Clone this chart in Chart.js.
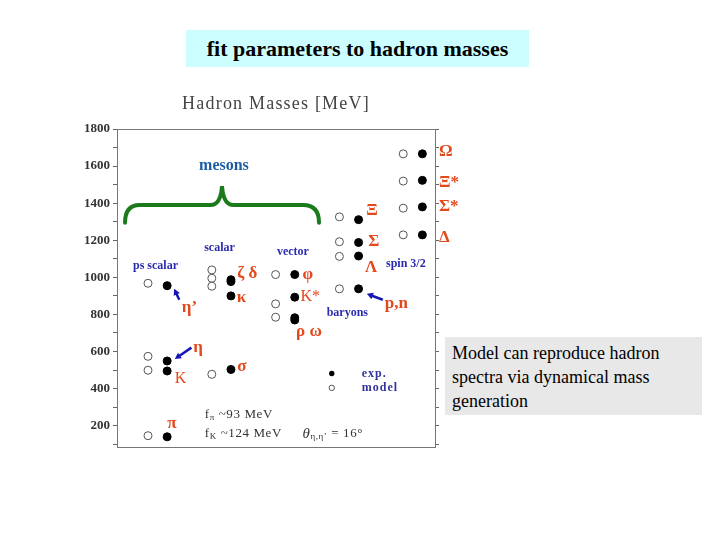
<!DOCTYPE html>
<html>
<head>
<meta charset="utf-8">
<script src="https://cdn.jsdelivr.net/npm/chart.js@4"></script>
<style>
  body { margin: 0; background: #fff; }
  #slide { position: relative; width: 720px; height: 540px; overflow: hidden; }
  #c { position: absolute; left: 0; top: 0; }
  .title { position: absolute; left: 186px; top: 30px; width: 343px; height: 37px; background: #ccfdff;
           font: bold 22px "Liberation Serif", serif; color: #000; text-align: center; line-height: 37px; }
  .head { position: absolute; left: 117px; top: 93px; width: 318px; text-align: center;
          font: 18px "Liberation Serif", serif; color: #444; letter-spacing: 1.2px; }
  .note { position: absolute; left: 445px; top: 337px; width: 250px; height: 72px; padding: 4px 0 2px 7px; background: #e8e8e8;
          font: 18px "Liberation Serif", serif; color: #000; line-height: 24px; }
</style>
</head>
<body>
<div id="slide">
  <canvas id="c" width="720" height="540"></canvas>
  <div class="title">fit parameters to hadron masses</div>
  <div class="head">Hadron Masses [MeV]</div>
  <div class="note">Model can reproduce hadron spectra via dynamical mass generation</div>
</div>
<script>
(function() {
// columns of the plot
var columns = ["ps scalar", "scalar", "vector", "baryons", "spin 3/2"];

// masses in MeV
var psScalarModel = [968, 574, 499, 146];
var psScalarExp   = [955, 549, 495, 140];
var scalarModel   = [1040, 995, 952, 477];
var scalarExp     = [987, 977, 900, 503];
var vectorModel   = [1015, 857, 785];
var vectorExp     = [1015, 893, 782, 770];
var baryonModel   = [938, 1113, 1192, 1326];
var baryonExp     = [938, 1115, 1188, 1311];
var spin32Model   = [1229, 1373, 1519, 1666];
var spin32Exp     = [1229, 1380, 1523, 1666];

var yTicks = [100, 200, 300, 400, 500, 600, 700, 800, 900, 1000, 1100, 1200, 1300, 1400, 1500, 1600, 1700, 1800];

var modelByCol = [psScalarModel, scalarModel, vectorModel, baryonModel, spin32Model];
var expByCol = [psScalarExp, scalarExp, vectorExp, baryonExp, spin32Exp];

function points(byCol, shift) {
    var out = [];
    byCol.forEach(function(list, i) {
        list.forEach(function(m) { out.push({x: i + shift, y: m}); });
    });
    return out;
}

var red = "#e24a1c", blue = "#2b2bb0";

// particle names: [text, x (column units), y (MeV)]
var names = [
    ["\u03A9", 4.56, 1676], ["\u039E*", 4.56, 1510], ["\u03A3*", 4.56, 1380], ["\u0394", 4.56, 1215],
    ["\u039E", 3.42, 1362], ["\u03A3", 3.45, 1192], ["\u039B", 3.40, 1054], ["p,n", 3.71, 857],
    ["\u03C6", 2.42, 1014], ["\u03C1 \u03C9", 2.32, 710],
    ["\u03B6 \u03B4", 1.40, 1018], ["\u03BA", 1.39, 889], ["\u03C3", 1.40, 521],
    ["\u03B7\u2019", 0.53, 839], ["\u03B7", 0.71, 621], ["\u03C0", 0.30, 213]
];
var plainNames = [["K*", 2.39, 896], ["K", 0.42, 451]];
var groups = [
    ["ps scalar", -0.235, 1063], ["scalar", 0.88, 1158], ["vector", 2.02, 1138],
    ["baryons", 2.80, 807], ["spin 3/2", 3.73, 1072]
];
var arrows = [[0.49, 879, 0.41, 938], [0.68, 621, 0.42, 560], [3.68, 879, 3.43, 911]];

var decor = {
    id: "decor",
    afterDraw: function(chart) {
        var c = chart.ctx, a = chart.chartArea;
        var X = function(v) { return chart.scales.x.getPixelForValue(v); };
        var Y = function(v) { return chart.scales.y.getPixelForValue(v); };
        c.save();
        c.strokeStyle = "#777"; c.lineWidth = 1;
        c.strokeRect(a.left + 0.5, a.top + 0.5, a.right - a.left, a.bottom - a.top);

        // mesons brace
        c.strokeStyle = "#1b7a1b"; c.lineWidth = 4; c.lineCap = "round";
        c.beginPath();
        c.moveTo(X(-0.36), Y(1295));
        c.quadraticCurveTo(X(-0.36), Y(1390), X(-0.13), Y(1390));
        c.lineTo(X(0.98), Y(1390));
        c.quadraticCurveTo(X(1.14), Y(1390), X(1.16), Y(1492));
        c.quadraticCurveTo(X(1.18), Y(1390), X(1.34), Y(1390));
        c.lineTo(X(2.43), Y(1390));
        c.quadraticCurveTo(X(2.68), Y(1390), X(2.68), Y(1295));
        c.stroke();

        c.textBaseline = "middle"; c.textAlign = "left";
        c.fillStyle = "#1d5ea3"; c.font = "bold 16px 'Liberation Serif', serif";
        c.fillText("mesons", X(0.80), Y(1600));

        c.fillStyle = red; c.font = "bold 17px 'Liberation Serif', serif";
        names.forEach(function(n) { c.fillText(n[0], X(n[1]), Y(n[2])); });
        c.font = "16px 'Liberation Serif', serif";
        plainNames.forEach(function(n) { c.fillText(n[0], X(n[1]), Y(n[2])); });

        c.fillStyle = blue; c.font = "bold 12px 'Liberation Serif', serif";
        groups.forEach(function(n) { c.fillText(n[0], X(n[1]), Y(n[2])); });

        // arrows
        c.strokeStyle = "#1616b8"; c.fillStyle = "#1616b8"; c.lineWidth = 2.5; c.lineCap = "butt";
        arrows.forEach(function(ar) {
            var x1 = X(ar[0]), y1 = Y(ar[1]), x2 = X(ar[2]), y2 = Y(ar[3]);
            var ang = Math.atan2(y2 - y1, x2 - x1);
            c.beginPath(); c.moveTo(x1, y1); c.lineTo(x2 - 4 * Math.cos(ang), y2 - 4 * Math.sin(ang)); c.stroke();
            c.beginPath();
            c.moveTo(x2, y2);
            c.lineTo(x2 - 7 * Math.cos(ang - 0.5), y2 - 7 * Math.sin(ang - 0.5));
            c.lineTo(x2 - 7 * Math.cos(ang + 0.5), y2 - 7 * Math.sin(ang + 0.5));
            c.closePath(); c.fill();
        });

        // legend
        c.fillStyle = "#000";
        c.beginPath(); c.arc(X(2.88), Y(481), 2.7, 0, 2 * Math.PI); c.fill();
        c.fillStyle = "#fff"; c.strokeStyle = "#555"; c.lineWidth = 1;
        c.beginPath(); c.arc(X(2.88), Y(404), 2.7, 0, 2 * Math.PI); c.fill(); c.stroke();
        c.fillStyle = "#33339a"; c.font = "bold 12px 'Liberation Serif', serif";
        c.letterSpacing = "1px";
        c.fillText("exp.", X(3.35), Y(481));
        c.fillText("model", X(3.35), Y(404));

        // fit notes
        c.fillStyle = "#333";
        c.letterSpacing = "0.6px";
        var big = "13px 'Liberation Serif', serif", small = "9px 'Liberation Serif', serif";
        function rich(parts, x, y) {
            parts.forEach(function(p) {
                c.font = p[1] ? small : (p[2] ? "italic 15px 'Liberation Serif', serif" : big);
                c.fillText(p[0], x, y + (p[1] ? 3 : 0));
                x += c.measureText(p[0]).width;
            });
        }
        rich([["f"], ["\u03C0", 1], [" ~93 MeV"]], X(0.89), Y(258));
        rich([["f"], ["K", 1], [" ~124 MeV"]], X(0.89), Y(155));
        rich([["\u03B8", 0, 1], ["\u03B7,\u03B7\u2019", 1], [" = 16\u00B0"]], X(2.42), Y(155));
        c.restore();
    }
};

var ctx = document.getElementById("c").getContext("2d");
new Chart(ctx, {
    type: "scatter",
    data: {
        datasets: [{
            label: "exp.",
            data: points(expByCol, 0.3),
            pointRadius: 4,
            pointBackgroundColor: "#000",
            pointBorderColor: "#000",
            pointBorderWidth: 1
        }, {
            label: "model",
            data: points(modelByCol, 0),
            pointRadius: 4,
            pointBackgroundColor: "#fff",
            pointBorderColor: "#555",
            pointBorderWidth: 1
        }]
    },
    options: {
        responsive: false,
        animation: false,
        layout: { padding: { left: 67, right: 280, top: 129, bottom: 93 } },
        plugins: { legend: { display: false }, tooltip: { enabled: false } },
        scales: {
            x: { type: "linear", display: false, min: -0.486, max: 4.498 },
            y: {
                min: 85, max: 1800,
                afterBuildTicks: function(s) { s.ticks = yTicks.map(function(v) { return {value: v}; }); },
                afterFit: function(s) { s.width = 50; },
                ticks: {
                    color: "#333", padding: 3,
                    font: { family: "'Liberation Serif', serif", size: 13, weight: "bold" },
                    callback: function(v) { return v % 200 === 0 ? v : ""; }
                },
                grid: { drawOnChartArea: false, tickLength: 4, color: "#666" },
                border: { color: "#777" }
            },
            y2: {
                position: "right", min: 85, max: 1800,
                afterBuildTicks: function(s) { s.ticks = yTicks.map(function(v) { return {value: v}; }); },
                afterFit: function(s) { s.width = 5; },
                ticks: { display: false },
                grid: { drawOnChartArea: false, tickLength: 4, color: "#666" },
                border: { color: "#777" }
            }
        }
    },
    plugins: [decor]
});
})();
</script>
</body>
</html>
